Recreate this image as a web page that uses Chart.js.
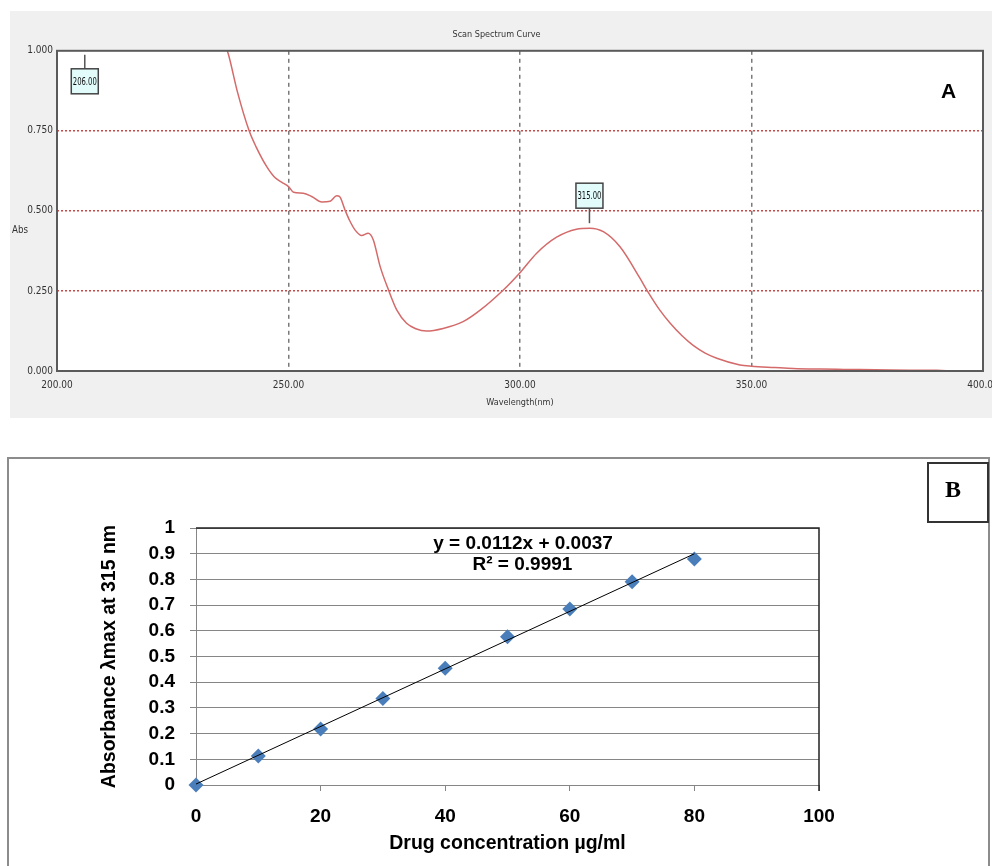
<!DOCTYPE html>
<html>
<head>
<meta charset="utf-8">
<script src="https://cdn.jsdelivr.net/npm/chart.js@4/dist/chart.umd.min.js"></script>
<style>
body { margin:0; width:992px; height:866px; overflow:hidden; background:#fff; position:relative; }
#panelA { position:absolute; left:10px; top:11px; width:982px; height:407px; background:#f0f0f0; }
#panelB { position:absolute; left:7px; top:457px; width:979px; height:420px; border:2px solid #8c8c8c; border-bottom:none; }
#labelA { position:absolute; left:931px; top:68px; font: bold 21px "Liberation Sans", Arial, sans-serif; color:#000; }
#labelB { position:absolute; left:918px; top:3px; width:58px; height:57px; border:2px solid #333; font: bold 24px "Liberation Serif", "Times New Roman", serif; line-height:50px; text-align:center; text-indent:-10px; }
canvas { position:absolute; left:0; top:0; }
</style>
</head>
<body>
<div id="panelA">
  <canvas id="chartA" width="982" height="407"></canvas>
  <div id="labelA">A</div>
</div>
<div id="panelB">
  <canvas id="chartB" width="979" height="407"></canvas>
  <div id="labelB">B</div>
</div>
<script>
// panel A - scan spectrum
const wavelength = [234, 236, 237, 239, 241.5, 243, 245.3, 247, 248.5, 250, 251.1, 253.2, 255, 257.2, 259, 260.4, 261, 262.2, 263.2, 264.4, 265.8, 267.2, 268.3, 269.8, 271.6, 273.4, 275.5, 277.5, 279.8, 283.4, 287.7, 291.4, 296.4, 300, 303.6, 307.9, 312.2, 315.1, 318, 321.6, 325.9, 327.3, 330.2, 332.4, 335, 337.4, 340, 342.5, 347.5, 350, 355, 359, 365, 370, 380, 390, 395, 400];
const absorbance = [1.12, 1.03, 0.99, 0.87, 0.75, 0.70, 0.638, 0.605, 0.59, 0.576, 0.558, 0.555, 0.545, 0.528, 0.53, 0.547, 0.545, 0.503, 0.47, 0.44, 0.423, 0.43, 0.41, 0.326, 0.253, 0.19, 0.149, 0.132, 0.125, 0.133, 0.154, 0.19, 0.253, 0.307, 0.368, 0.418, 0.443, 0.446, 0.435, 0.388, 0.29, 0.255, 0.19, 0.15, 0.11, 0.08, 0.056, 0.04, 0.019, 0.015, 0.011, 0.008, 0.006, 0.005, 0.003, 0.002, 0.0, 0.001];
const peakWl = [206, 315];
const peakAbs = [1.2, 0.446];
const peakLabels = ['206.00', '315.00'];

// panel B - calibration
const concentration = [0, 10, 20, 30, 40, 50, 60, 70, 80];
const absorbanceStd = [0, 0.113, 0.218, 0.337, 0.454, 0.577, 0.685, 0.791, 0.879];
const slope = 0.0112;
const intercept = 0.0037;
const eqLines = ['y = 0.0112x + 0.0037', 'R² = 0.9991'];

const narrow = '"Liberation Sans Narrow", "DejaVu Sans Condensed", "Liberation Sans", sans-serif';
const arial = '"Liberation Sans", Arial, sans-serif';

const frameA = {
    id: 'frameA',
    beforeDraw(chart) {
        const {ctx, chartArea: a} = chart;
        ctx.save();
        ctx.fillStyle = '#fff';
        ctx.fillRect(a.left, a.top, a.right - a.left, a.bottom - a.top);
        ctx.restore();
    },
    afterDatasetsDraw(chart) {
        const {ctx, chartArea: a, scales} = chart;
        ctx.save();
        ctx.strokeStyle = '#5a5a5a';
        ctx.lineWidth = 2;
        ctx.strokeRect(a.left, a.top, a.right - a.left, a.bottom - a.top);

        // peak markers
        ctx.font = '11px ' + narrow;
        ctx.textAlign = 'center';
        ctx.textBaseline = 'middle';
        peakWl.forEach((wl, i) => {
            const above = peakAbs[i] > 1;
            const x = scales.x.getPixelForValue(wl);
            const y = Math.max(a.top, scales.y.getPixelForValue(peakAbs[i])) + (above ? 4 : -5);
            const by = above ? y + 14 : y - 40;
            ctx.strokeStyle = '#555';
            ctx.lineWidth = 1.5;
            ctx.beginPath();
            ctx.moveTo(x, y);
            ctx.lineTo(x, above ? by : by + 25);
            ctx.stroke();
            ctx.fillStyle = '#e2fbfb';
            ctx.fillRect(x - 13.5, by, 27, 25);
            ctx.strokeStyle = '#444';
            ctx.strokeRect(x - 13.5, by, 27, 25);
            ctx.fillStyle = '#111';
            ctx.fillText(peakLabels[i], x, by + 13, 24);
        });

        ctx.font = '10px ' + narrow;
        ctx.fillStyle = '#333';
        ctx.textAlign = 'left';
        ctx.fillText('Abs', 2, 219, 16);
        ctx.restore();
    }
};

const chartA = new Chart(document.getElementById('chartA'), {
    type: 'line',
    data: {
        datasets: [{
            data: wavelength.map((w, i) => ({x: w, y: absorbance[i]})),
            borderColor: '#d46a6a',
            borderWidth: 1.5,
            pointRadius: 0,
            cubicInterpolationMode: 'monotone',
        }]
    },
    options: {
        responsive: false,
        animation: false,
        layout: {padding: {left: 0, right: 9, top: 3, bottom: 0}},
        plugins: {
            legend: {display: false},
            tooltip: {enabled: false},
            title: {
                display: true,
                text: 'Scan Spectrum Curve',
                color: '#333',
                font: {family: narrow, size: 9, weight: 'normal'},
                padding: {top: 15, bottom: 11},
            }
        },
        scales: {
            x: {
                type: 'linear',
                min: 200,
                max: 400,
                ticks: {stepSize: 50, callback: v => v.toFixed(2), color: '#333', font: {family: narrow, size: 10}, padding: 8, maxRotation: 0},
                grid: {drawTicks: false, lineWidth: 1.5, color: c => (c.tick && c.tick.value > 200 && c.tick.value < 400) ? '#7a7a7a' : 'rgba(0,0,0,0)'},
                border: {display: false, dash: [4, 4]},
                title: {display: true, text: 'Wavelength(nm)', color: '#333', font: {family: narrow, size: 9}, padding: {top: 0, bottom: 10}},
                afterFit: s => { s.height = 47; s.paddingLeft = 0; s.paddingRight = 0; }
            },
            y: {
                min: 0,
                max: 1,
                ticks: {stepSize: 0.25, callback: v => v.toFixed(3), color: '#333', font: {family: narrow, size: 10}, padding: 4},
                grid: {drawTicks: false, lineWidth: 1.5, color: c => (c.tick && c.tick.value > 0 && c.tick.value < 1) ? '#c84848' : 'rgba(0,0,0,0)'},
                border: {display: false, dash: [2, 2]},
                afterFit: s => { s.width = 47; }
            }
        }
    },
    plugins: [frameA]
});

const frameB = {
    id: 'frameB',
    afterDatasetsDraw(chart) {
        const {ctx, chartArea: a, scales} = chart;
        ctx.save();
        ctx.strokeStyle = '#222';
        ctx.lineWidth = 1.5;
        ctx.beginPath();
        ctx.moveTo(a.left, a.top);
        ctx.lineTo(a.right, a.top);
        ctx.lineTo(a.right, a.bottom + 6);
        ctx.stroke();

        ctx.font = 'bold 19px ' + arial;
        ctx.fillStyle = '#000';
        ctx.textAlign = 'center';
        ctx.textBaseline = 'middle';
        ctx.fillText(eqLines[0], scales.x.getPixelForValue(52.5), scales.y.getPixelForValue(0.938));
        ctx.fillText(eqLines[1], scales.x.getPixelForValue(52.4), scales.y.getPixelForValue(0.856));
        ctx.restore();
    }
};

const trendX = [0, concentration[concentration.length - 1]];

const chartB = new Chart(document.getElementById('chartB'), {
    type: 'scatter',
    data: {
        datasets: [
            {
                type: 'line',
                data: trendX.map(x => ({x: x, y: slope * x + intercept})),
                borderColor: '#000',
                borderWidth: 1,
                pointRadius: 0,
            },
            {
                data: concentration.map((c, i) => ({x: c, y: absorbanceStd[i]})),
                backgroundColor: '#4a7ebb',
                borderWidth: 0,
                pointStyle: 'rectRot',
                pointRadius: 7.5,
                clip: false,
            }
        ]
    },
    options: {
        responsive: false,
        animation: false,
        layout: {padding: {left: 85, right: 169, top: 69, bottom: 7}},
        plugins: {legend: {display: false}, tooltip: {enabled: false}},
        scales: {
            x: {
                type: 'linear',
                min: 0,
                max: 100,
                ticks: {stepSize: 20, color: '#000', font: {family: arial, size: 19, weight: 'bold'}, padding: 14, maxRotation: 0},
                grid: {drawOnChartArea: false, drawTicks: true, tickLength: 6, color: '#868686'},
                border: {display: true, color: '#868686'},
                title: {display: true, text: 'Drug concentration µg/ml', color: '#000', font: {family: arial, size: 19.5, weight: 'bold'}, padding: {top: 0, bottom: 4}},
                afterFit: s => { s.height = 74; }
            },
            y: {
                min: 0,
                max: 1,
                ticks: {stepSize: 0.1, autoSkip: false, callback: v => Math.round(v * 10) / 10, color: '#000', font: {family: arial, size: 19, weight: 'bold'}, padding: 15},
                grid: {tickLength: 6, color: '#868686'},
                border: {display: true, color: '#868686'},
                title: {display: true, text: 'Absorbance λmax at 315 nm', color: '#000', font: {family: arial, size: 19.5, weight: 'bold'}, padding: {top: 4, bottom: 0}},
                afterFit: s => { s.width = 102; }
            }
        }
    },
    plugins: [frameB]
});
</script>
</body>
</html>
